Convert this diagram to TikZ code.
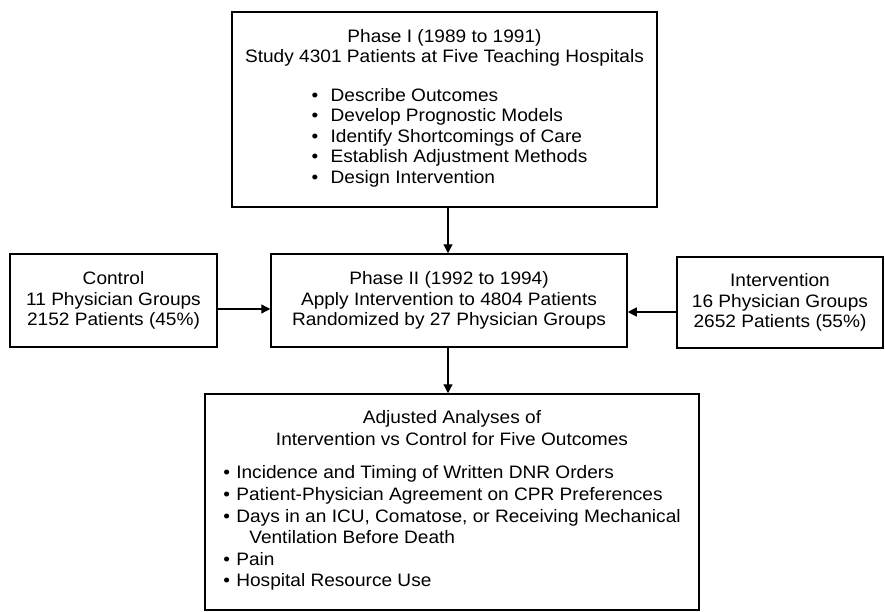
\documentclass[tikz,border=0pt]{standalone}
\usepackage{fontspec}
\setmainfont{Liberation Sans}[FakeStretch=1.06]
\usetikzlibrary{arrows.meta}
\newcommand\bulA{\makebox[19pt][l]{•}}
\newcommand\bulB{\makebox[13pt][l]{•}}
\begin{document}
\begin{tikzpicture}[x=1pt,y=-1pt,
  box/.style={draw=black, line width=1.5pt, rectangle, inner sep=0pt, align=center,
    font=\fontsize{18}{20.5}\selectfont},
  arr/.style={draw=black, line width=1.3pt, -{Triangle[length=9pt,width=9pt]}}]
\useasboundingbox (0,0) rectangle (885,612);
\node[box, minimum width=425pt, minimum height=195pt] (p1) at (444.5,109.5)
  {Phase I (1989 to 1991)\\Study 4301 Patients at Five Teaching Hospitals\\[18pt]
   \hspace*{10pt}\begin{tabular}[t]{@{}l@{}}
   \bulA Describe Outcomes\\
   \bulA Develop Prognostic Models\\
   \bulA Identify Shortcomings of Care\\
   \bulA Establish Adjustment Methods\\
   \bulA Design Intervention
   \end{tabular}};
\node[box, minimum width=356pt, minimum height=93pt] (p2) at (449,300.5)
  {Phase II (1992 to 1994)\\Apply Intervention to 4804 Patients\\Randomized by 27 Physician Groups};
\node[box, minimum width=207pt, minimum height=93pt] (ctrl) at (113.5,300.5)
  {Control\\11 Physician Groups\\2152 Patients (45\%)};
\node[box, minimum width=206pt, minimum height=91pt] (intv) at (780,302.5)
  {Intervention\\16 Physician Groups\\2652 Patients (55\%)};
\node[box, minimum width=494pt, minimum height=216pt, font=\fontsize{18}{21.6}\selectfont] (out) at (452,502)
  {Adjusted Analyses of\\Intervention vs Control for Five Outcomes\\[12pt]
   \begin{tabular}[t]{@{}l@{}}
   \bulB Incidence and Timing of Written DNR Orders\\
   \bulB Patient-Physician Agreement on CPR Preferences\\
   \bulB Days in an ICU, Comatose, or Receiving Mechanical\\
   \hspace*{26pt}Ventilation Before Death\\
   \bulB Pain\\
   \bulB Hospital Resource Use
   \end{tabular}};
\draw[arr] ([xshift=3.5pt]p1.south) -- ([xshift=3.5pt]p1.south |- p2.north);
\draw[arr] ([xshift=-1pt]p2.south) -- ([xshift=-1pt]p2.south |- out.north);
\draw[arr] ([yshift=-8.5pt]ctrl.east) -- ([yshift=-8.5pt]ctrl.east -| p2.west);
\draw[arr] ([yshift=-9.5pt]intv.west) -- ([yshift=-9.5pt]intv.west -| p2.east);
\end{tikzpicture}
\end{document}
